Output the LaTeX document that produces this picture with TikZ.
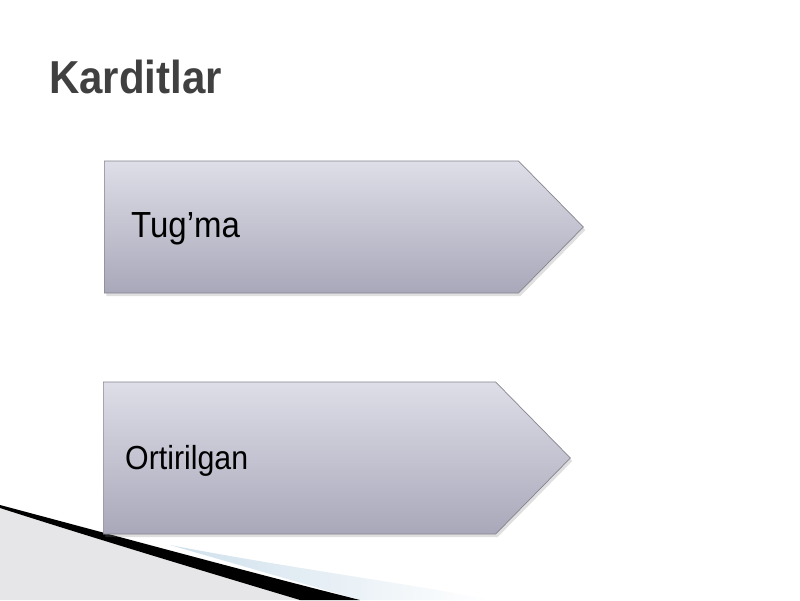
\documentclass[tikz,border=0pt]{standalone}
\usepackage{fontspec}
\setmainfont{Liberation Sans}
\usetikzlibrary{positioning,shapes.symbols,shadows}

\definecolor{boxtop}{HTML}{DEDEE8}
\definecolor{boxbottom}{HTML}{A8A8BA}
\definecolor{boxborder}{HTML}{85858F}
\definecolor{titlegray}{HTML}{404040}
\definecolor{swooshgray}{HTML}{E6E6E8}
\definecolor{swooshblue}{HTML}{CFE0EC}

\newcommand{\tallText}[1]{\scalebox{1}[1.1]{#1}}

\begin{document}
\begin{tikzpicture}[
    x=1pt, y=-1pt,
    arrowbox/.style={signal, signal to=east, signal pointer angle=91, draw=boxborder, line width=0.7pt,
        top color=boxtop, bottom color=boxbottom, inner sep=0pt, anchor=west,
        drop shadow={opacity=0.25, shadow xshift=2pt, shadow yshift=-3pt}},
    boxlabel/.style={anchor=west, inner sep=0pt, text=black},
    heading/.style={anchor=base west, inner sep=0pt, text=titlegray, font=\fontsize{42}{50}\selectfont\bfseries}
]
\useasboundingbox (0,0) rectangle (800,600);
\fill[white] (0,0) rectangle (800,600);

% Bottom swoosh
\fill[swooshgray] (0,507) -- (300,600) -- (0,600) -- cycle;
\shade[left color=swooshblue, right color=white] (170,545) .. controls (300,570) and (420,585) .. (490,600) -- (360,600) -- cycle;
\fill[black] (0,505) .. controls (150,545) and (260,575) .. (360,600) -- (300,600) .. controls (200,570) and (100,540) .. (0,508) -- cycle;

% Title
\node[heading] (title) at (49,93) {\tallText{Karditlar}};

% Arrows
\node[arrowbox, minimum width=479pt, minimum height=132pt] (tugma) at (104,227) {};
\node[arrowbox, minimum width=467pt, minimum height=152pt] (ortirilgan) at (103,458) {};

% Labels
\node[boxlabel, font=\fontsize{33}{40}\selectfont] (tugmatext) at ([xshift=27pt,yshift=-2pt]tugma.west) {\tallText{Tug’ma}};
\node[boxlabel, font=\fontsize{30.3}{36}\selectfont] (ortirilgantext) at ([xshift=22pt,yshift=-3pt]ortirilgan.west) {\tallText{Ortirilgan}};

\end{tikzpicture}
\end{document}
